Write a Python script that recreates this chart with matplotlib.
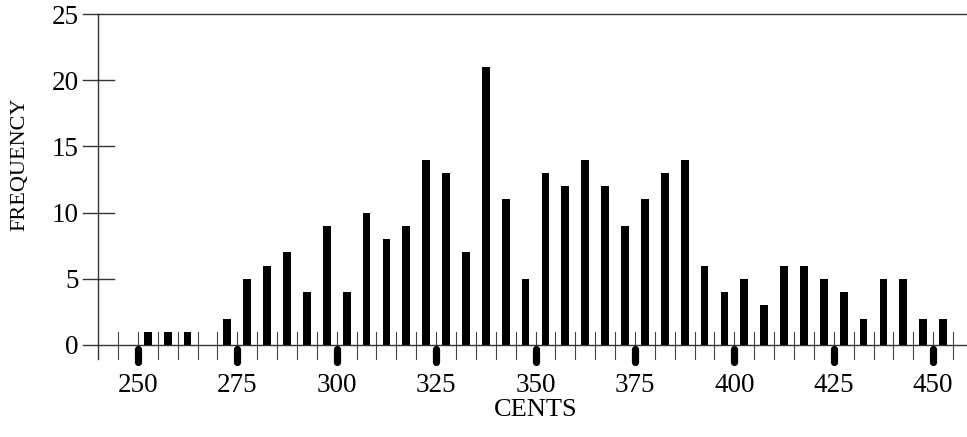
import matplotlib
matplotlib.use("Agg")
import matplotlib.pyplot as plt
import numpy as np

plt.rcParams['font.family'] = ['Liberation Serif', 'DejaVu Serif']

# bin centres (cents) and counts
cents = [252.5, 257.5, 262.5, 267.5, 272.5, 277.5, 282.5, 287.5, 292.5, 297.5,
         302.5, 307.5, 312.5, 317.5, 322.5, 327.5, 332.5, 337.5, 342.5, 347.5,
         352.5, 357.5, 362.5, 367.5, 372.5, 377.5, 382.5, 387.5, 392.5, 397.5,
         402.5, 407.5, 412.5, 417.5, 422.5, 427.5, 432.5, 437.5, 442.5, 447.5,
         452.5]
freq = [1, 1, 1, 0, 2, 5, 6, 7, 4, 9,
        4, 10, 8, 9, 14, 13, 7, 21, 11, 5,
        13, 12, 14, 12, 9, 11, 13, 14, 6, 4,
        5, 3, 6, 6, 5, 4, 2, 5, 5, 2,
        2]
major_ticks = [250, 275, 300, 325, 350, 375, 400, 425, 450]
minor_ticks = list(range(245, 460, 5))
y_ticks = [0, 5, 10, 15, 20, 25]

fig = plt.figure(figsize=(9.67, 4.37), dpi=100)
ax = fig.add_axes([83/967, 92/437, 884/967, 331/437])

ax.bar(cents, freq, width=1.95, color='black', zorder=3)

ax.set_xlim(236.2, 458.5)
ax.set_ylim(0, 25)

for s in ['left', 'right']:
    ax.spines[s].set_visible(False)
for s in ['top', 'bottom']:
    ax.spines[s].set_color('#333333')
    ax.spines[s].set_linewidth(1.0)

# y axis drawn at 240 cents, running a bit below zero
ax.plot([240, 240], [-1.05, 25], color='#333333', lw=1.0, clip_on=False)
for yv in y_ticks[1:-1]:
    ax.plot([236.2, 244], [yv, yv], color='#333333', lw=1.0, clip_on=False)

# thin ticks every 5 cents
for xv in minor_ticks:
    ax.plot([xv, xv], [-1.05, 1.0], color='#444444', lw=0.8, clip_on=False, zorder=2)
# thick marks under the labelled ticks
for xv in major_ticks:
    ax.plot([xv, xv], [-0.3, -1.25], color='black', lw=5.2, solid_capstyle='round',
            clip_on=False, zorder=4)

ax.set_xticks(major_ticks)
ax.set_xticklabels([str(v) for v in major_ticks], fontsize=19.5)
ax.tick_params(axis='x', length=0, pad=20)
ax.set_yticks(y_ticks)
ax.set_yticklabels([str(v) for v in y_ticks], fontsize=19.5)
ax.tick_params(axis='y', length=0, pad=3)

fig.text(536/967, 1 - 410/437, 'CENTS', fontsize=19, ha='center', va='center')
fig.text(20/967, 1 - 164/437, 'FREQUENCY', fontsize=16, ha='center', va='center',
         rotation=90)

fig.savefig('out.png', dpi=100)
